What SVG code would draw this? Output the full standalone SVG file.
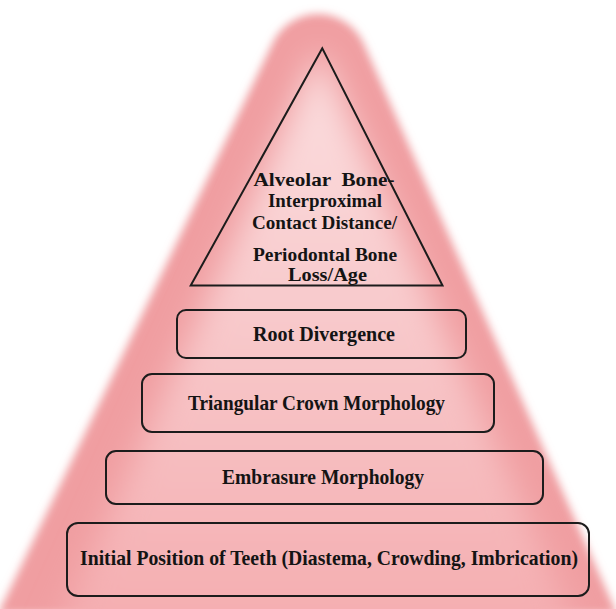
<svg xmlns="http://www.w3.org/2000/svg" width="616" height="609" viewBox="0 0 616 609">
  <defs>
    <filter id="soft" x="-10%" y="-10%" width="120%" height="120%">
      <feGaussianBlur stdDeviation="4.5"/>
    </filter>
    <filter id="glow" x="-30%" y="-30%" width="160%" height="160%">
      <feGaussianBlur stdDeviation="16"/>
    </filter>
    <linearGradient id="inner" x1="0" y1="0" x2="0" y2="1">
      <stop offset="0" stop-color="#fbdfe0"/>
      <stop offset="0.45" stop-color="#f8c9cb"/>
      <stop offset="1" stop-color="#f4abae"/>
    </linearGradient>
    <style>
      .box { fill: none; stroke: #1c1c1c; stroke-width: 2; }
      .lbl { font-family: "Liberation Serif", "Times New Roman", serif; font-weight: bold; font-size: 21px; fill: #141414; text-anchor: middle; }
      .tri { font-size: 19.5px; }
    </style>
  </defs>

  <rect width="616" height="609" fill="#ffffff"/>

  <g id="background">
    <path d="M -2 614 L 272.5 43.3 A 50 50 0 0 1 363.5 43.3 L 617 614 Z" fill="#f09ea1" filter="url(#soft)"/>
    <polygon points="319,50 48,650 588,650" fill="url(#inner)" filter="url(#glow)"/>
  </g>

  <g id="connectors"/>

  <g id="node-apex">
    <polygon class="box" points="322.3,48.3 190.7,285.5 442.5,285.5" stroke-linejoin="miter"/>
    <text class="lbl tri" xml:space="preserve"><tspan x="324" y="186" textLength="141" lengthAdjust="spacingAndGlyphs">Alveolar  Bone-</tspan><tspan x="325" y="207" textLength="114" lengthAdjust="spacingAndGlyphs">Interproximal</tspan><tspan x="324.5" y="228.5" textLength="145" lengthAdjust="spacingAndGlyphs">Contact Distance/</tspan><tspan x="325" y="260.5" textLength="144" lengthAdjust="spacingAndGlyphs">Periodontal Bone</tspan><tspan x="327.5" y="280.5" textLength="79" lengthAdjust="spacingAndGlyphs">Loss/Age</tspan></text>
  </g>

  <g id="node-root">
    <rect class="box" x="177" y="310" width="289" height="48" rx="9"/>
    <text class="lbl" x="324" y="341" textLength="142" lengthAdjust="spacingAndGlyphs">Root Divergence</text>
  </g>

  <g id="node-crown">
    <rect class="box" x="142" y="374" width="352" height="58" rx="10"/>
    <text class="lbl" x="316.5" y="410" textLength="257" lengthAdjust="spacingAndGlyphs">Triangular Crown Morphology</text>
  </g>

  <g id="node-embrasure">
    <rect class="box" x="106" y="451" width="437" height="53" rx="10"/>
    <text class="lbl" x="323" y="484" textLength="202" lengthAdjust="spacingAndGlyphs">Embrasure Morphology</text>
  </g>

  <g id="node-initial">
    <rect class="box" x="67" y="523" width="522" height="73" rx="11"/>
    <text class="lbl" x="329" y="565" textLength="498" lengthAdjust="spacingAndGlyphs">Initial Position of Teeth (Diastema, Crowding, Imbrication)</text>
  </g>
</svg>
